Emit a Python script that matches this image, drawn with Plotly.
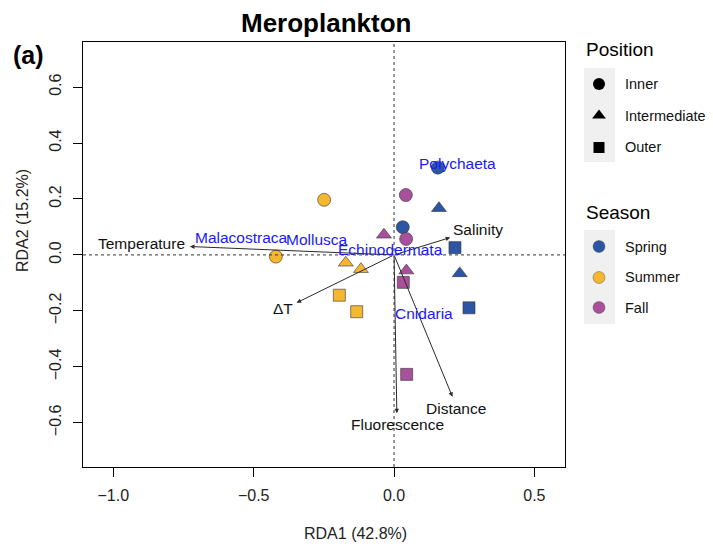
import plotly.graph_objects as go

# window is 713x548; the page body adds an 8px offset
OFF = 8
W, H = 705, 540
FONT = "Liberation Sans, Arial, sans-serif"

# ---- site scores (RDA1, RDA2) ----
site_season = ["Spring", "Spring", "Summer", "Summer", "Fall", "Fall",
               "Spring", "Spring", "Summer", "Summer", "Fall", "Fall",
               "Spring", "Spring", "Summer", "Summer", "Fall", "Fall"]
site_position = ["Inner"] * 6 + ["Intermediate"] * 6 + ["Outer"] * 6
site_rda1 = [0.156, 0.031, -0.249, -0.421, 0.042, 0.043,
             0.160, 0.234, -0.172, -0.118, -0.036, 0.044,
             0.217, 0.267, -0.195, -0.133, 0.033, 0.045]
site_rda2 = [0.312, 0.099, 0.197, -0.006, 0.214, 0.057,
             0.167, -0.066, -0.028, -0.051, 0.072, -0.056,
             0.026, -0.189, -0.144, -0.203, -0.098, -0.427]

# ---- environmental vectors ----
env_names = ["Temperature", "Salinity", "ΔT", "Fluorescence", "Distance"]
env_rda1 = [-0.727, 0.200, -0.347, 0.010, 0.208]
env_rda2 = [0.030, 0.062, -0.171, -0.566, -0.507]
env_label_rda1 = [-0.898, 0.299, -0.394, 0.011, 0.222]
env_label_rda2 = [0.042, 0.092, -0.191, -0.606, -0.549]

# ---- species scores ----
species_names = ["Polychaeta", "Malacostraca", "Mollusca", "Echinodermata", "Cnidaria"]
species_rda1 = [0.227, -0.544, -0.275, -0.013, 0.108]
species_rda2 = [0.328, 0.062, 0.056, 0.020, -0.211]

# ---- axis ticks ----
x_ticks = [-1.0, -0.5, 0.0, 0.5]
y_ticks = [-0.6, -0.4, -0.2, 0.0, 0.2, 0.4, 0.6]

seasons = ["Spring", "Summer", "Fall"]
season_colors = {"Spring": "#2C56A4", "Summer": "#F5B730", "Fall": "#A8509B"}
positions = ["Inner", "Intermediate", "Outer"]
pos_symbols = {"Inner": "circle", "Intermediate": "triangle-up", "Outer": "square"}
pos_sizes = {"Inner": 13, "Intermediate": 13, "Outer": 12}

fig = go.Figure()

# plot box in screen pixels
L, R, T, B = 83, 565, 42, 467


def px_x(p):
    return (p - OFF) / W


def px_y(p):
    return 1 - (p - OFF) / H


for pos in positions:
    for s in seasons:
        xs = [x for x, ss, pp in zip(site_rda1, site_season, site_position) if ss == s and pp == pos]
        ys = [y for y, ss, pp in zip(site_rda2, site_season, site_position) if ss == s and pp == pos]
        fig.add_trace(go.Scatter(
            x=xs, y=ys, mode="markers", showlegend=False,
            marker=dict(symbol=pos_symbols[pos], size=pos_sizes[pos],
                        color=season_colors[s],
                        line=dict(color="rgba(50,50,50,0.75)", width=0.8)),
            xaxis="x", yaxis="y"))

annotations = []
# env arrows
for name, x, y, lx, ly in zip(env_names, env_rda1, env_rda2, env_label_rda1, env_label_rda2):
    annotations.append(dict(x=x, y=y, ax=0, ay=0, xref="x", yref="y", axref="x", ayref="y",
                            text="", showarrow=True, arrowhead=2, arrowsize=0.9, arrowwidth=1,
                            arrowcolor="#2A2A2A"))
    annotations.append(dict(x=lx, y=ly, xref="x", yref="y", text=name, showarrow=False,
                            xanchor="center", yanchor="middle",
                            font=dict(family=FONT, size=15.5, color="#111111")))
# species labels
for name, x, y in zip(species_names, species_rda1, species_rda2):
    annotations.append(dict(x=x, y=y, xref="x", yref="y", text=name, showarrow=False,
                            xanchor="center", yanchor="middle",
                            font=dict(family=FONT, size=15.5, color="#1A1AF5")))


def paper_text(xp, yp, text, size, xanchor="center", angle=0, color="black", pad=1):
    annotations.append(dict(x=px_x(xp), y=px_y(yp), xref="paper", yref="paper",
                            text=text, showarrow=False, xanchor=xanchor, yanchor="middle",
                            textangle=angle, borderpad=pad,
                            font=dict(family=FONT, size=size, color=color)))


paper_text(325.5, 23, "<b>Meroplankton</b>", 26, pad=0)
paper_text(28, 55, "<b>(a)</b>", 25)
paper_text(355, 533, "RDA1 (42.8%)", 16, color="#222222")
paper_text(23, 221, "RDA2 (15.2%)", 16, angle=-90, color="#222222")

# ---- manual legend ----
leg_x_key = 599
leg_x_text = 623
pos_legend_y = [84, 115.5, 147.5]
season_legend_y = [246.5, 277.5, 307.5]
shapes = []
shapes.append(dict(type="rect", xref="paper", yref="paper",
                   x0=px_x(584), x1=px_x(615), y0=px_y(68), y1=px_y(162),
                   fillcolor="#F0F0F0", line=dict(width=0), layer="below"))
shapes.append(dict(type="rect", xref="paper", yref="paper",
                   x0=px_x(584), x1=px_x(615), y0=px_y(230), y1=px_y(324),
                   fillcolor="#F0F0F0", line=dict(width=0), layer="below"))
paper_text(584, 50, "Position", 19, xanchor="left")
paper_text(584, 212.5, "Season", 19, xanchor="left")
for pos, yy in zip(positions, pos_legend_y):
    fig.add_trace(go.Scatter(x=[leg_x_key], y=[yy], mode="markers", showlegend=False,
                             marker=dict(symbol=pos_symbols[pos], size=pos_sizes[pos] - 1, color="black"),
                             xaxis="x2", yaxis="y2", hoverinfo="skip"))
    paper_text(leg_x_text, yy, pos, 14.5, xanchor="left", color="#111111")
for s, yy in zip(seasons, season_legend_y):
    fig.add_trace(go.Scatter(x=[leg_x_key], y=[yy], mode="markers", showlegend=False,
                             marker=dict(symbol="circle", size=12, color=season_colors[s],
                                         line=dict(color="rgba(50,50,50,0.6)", width=0.6)),
                             xaxis="x2", yaxis="y2", hoverinfo="skip"))
    paper_text(leg_x_text, yy, s, 14.5, xanchor="left", color="#111111")

# dotted zero lines
shapes.append(dict(type="line", xref="x", yref="paper", x0=0, x1=0,
                   y0=px_y(B), y1=px_y(T), line=dict(color="#333333", width=1, dash="dot")))
shapes.append(dict(type="line", xref="paper", yref="y", x0=px_x(L), x1=px_x(R),
                   y0=0, y1=0, line=dict(color="#333333", width=1, dash="dot")))

axis_common = dict(showgrid=False, zeroline=False, showline=True, linecolor="black",
                   linewidth=1.3, mirror=True, ticks="outside", ticklen=9, tickwidth=1.3,
                   tickcolor="black", tickformat=".1f", automargin=False,
                   tickfont=dict(family=FONT, size=16, color="#222222"))

fig.update_layout(
    width=W, height=H,
    margin=dict(l=0, r=0, t=0, b=0),
    paper_bgcolor="white", plot_bgcolor="rgba(0,0,0,0)",
    showlegend=False,
    xaxis=dict(domain=[px_x(L), px_x(R)], range=[-1.108, 0.609],
               tickvals=x_ticks, ticklabelstandoff=5, **axis_common),
    yaxis=dict(domain=[px_y(B), px_y(T)], range=[-0.758, 0.761],
               tickvals=y_ticks, tickangle=-90, ticklabelstandoff=5, **axis_common),
    xaxis2=dict(domain=[0, 1], range=[OFF, OFF + W], visible=False, fixedrange=True),
    yaxis2=dict(domain=[0, 1], range=[OFF + H, OFF], visible=False, fixedrange=True),
    annotations=annotations,
    shapes=shapes,
)

fig.write_html("out.html")
